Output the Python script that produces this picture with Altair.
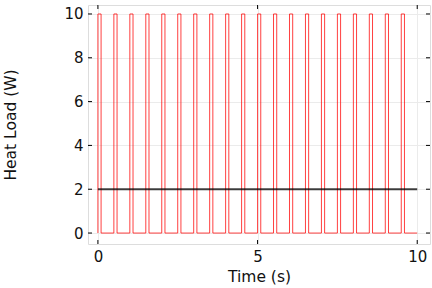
import altair as alt
import pandas as pd

# Pulse train data
pulse_starts = [0.0, 0.5, 1.0, 1.5, 2.0, 2.5, 3.0, 3.5, 4.0, 4.5,
                5.0, 5.5, 6.0, 6.5, 7.0, 7.5, 8.0, 8.5, 9.0, 9.5]
pulse_width = 0.1
pulse_high = 10.0
pulse_low = 0.0
t_end = 10.0

avg_t = [0.0, 10.0]
avg_v = [2.0, 2.0]

x_ticks = [0, 5, 10]
y_ticks = [0, 2, 4, 6, 8, 10]

rows = []
i = 0
for s in pulse_starts:
    for t, v in [(s, pulse_low), (s, pulse_high), (s + pulse_width, pulse_high), (s + pulse_width, pulse_low)]:
        rows.append({"t": t, "v": v, "o": i})
        i += 1
rows.append({"t": t_end, "v": pulse_low, "o": i})
pulse_df = pd.DataFrame(rows)
avg_df = pd.DataFrame({"t": avg_t, "v": avg_v, "o": [0, 1]})

W, H = 342, 239
FONT = "DejaVu Sans"

xs = alt.Scale(domain=[-0.31, 10.4], nice=False, zero=False)
ys = alt.Scale(domain=[-0.5, 10.41], nice=False, zero=False)

x_axis = alt.Axis(values=x_ticks, ticks=False, domain=False, grid=True,
                  gridColor="#ebebeb", gridWidth=1, labelFontSize=15,
                  labelFont=FONT, labelColor="#111", labelPadding=5,
                  title="Time (s)", titleFont=FONT, titleFontSize=15.5,
                  titleFontWeight="normal", titleColor="#111",
                  titleY=32, titleBaseline="middle")
y_axis = alt.Axis(values=y_ticks, ticks=False, domain=False, grid=True,
                  gridColor="#ebebeb", gridWidth=1, labelFontSize=15,
                  labelFont=FONT, labelColor="#111", labelPadding=5,
                  title="Heat Load (W)", titleFont=FONT, titleFontSize=15.5,
                  titleFontWeight="normal", titleColor="#111",
                  titleX=-78, titleBaseline="middle", titleAngle=-90)

pulse = alt.Chart(pulse_df).mark_line(color="red", strokeWidth=1, opacity=0.75).encode(
    x=alt.X("t:Q", scale=xs, axis=x_axis),
    y=alt.Y("v:Q", scale=ys, axis=y_axis),
    order="o:Q",
)
avg = alt.Chart(avg_df).mark_line(color="black", strokeWidth=2.2, opacity=0.75).encode(
    x=alt.X("t:Q", scale=xs),
    y=alt.Y("v:Q", scale=ys),
    order="o:Q",
)

ydf = pd.DataFrame({"v": y_ticks})
xdf = pd.DataFrame({"t": x_ticks})
tl = 4
yt_left = alt.Chart(ydf).mark_rule(color="black", strokeWidth=1).encode(
    y=alt.Y("v:Q", scale=ys), x=alt.value(0), x2=alt.value(tl))
yt_right = alt.Chart(ydf).mark_rule(color="black", strokeWidth=1).encode(
    y=alt.Y("v:Q", scale=ys), x=alt.value(W - tl), x2=alt.value(W))
xt_bot = alt.Chart(xdf).mark_rule(color="black", strokeWidth=1).encode(
    x=alt.X("t:Q", scale=xs), y=alt.value(H - tl), y2=alt.value(H))
xt_top = alt.Chart(xdf).mark_rule(color="black", strokeWidth=1).encode(
    x=alt.X("t:Q", scale=xs), y=alt.value(0), y2=alt.value(tl))

chart = alt.layer(pulse, avg, yt_left, yt_right, xt_bot, xt_top).properties(
    width=W, height=H,
    autosize=alt.AutoSizeParams(type="none"),
    padding={"left": 88, "top": 5, "right": 2, "bottom": 44},
).configure_view(stroke="black", strokeWidth=1.2).configure(background="white")

chart.save("out.html", embed_options={"renderer": "svg", "actions": False})
